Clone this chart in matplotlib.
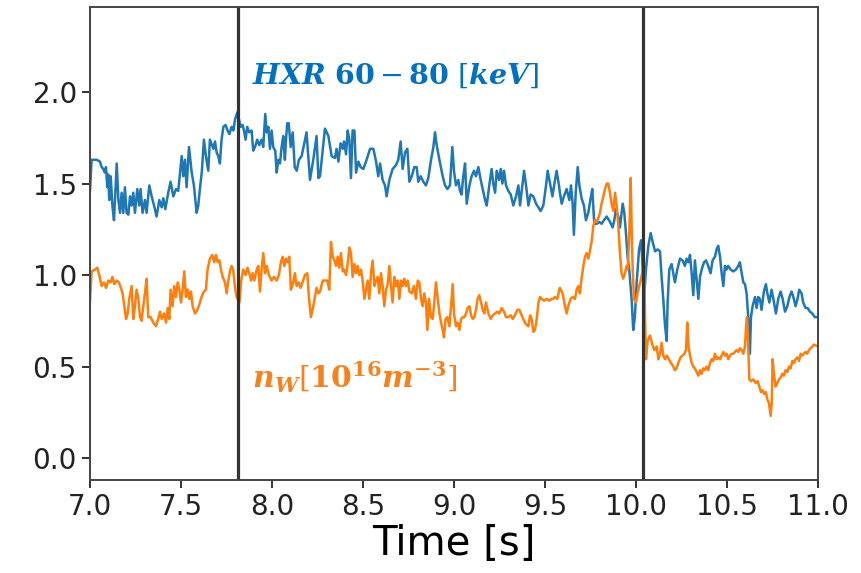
import matplotlib
matplotlib.use("Agg")
import matplotlib.pyplot as plt

# =====================================================
# DATA
# =====================================================

# HXR 60-80 keV signal
t_hxr = [
    7.000, 7.009, 7.037, 7.055, 7.064, 7.073, 7.082, 7.088, 7.095, 7.100,
    7.106, 7.114, 7.123, 7.132, 7.147, 7.156, 7.165, 7.174, 7.183, 7.192,
    7.201, 7.211, 7.220, 7.229, 7.238, 7.247, 7.260, 7.271, 7.278, 7.289,
    7.302, 7.311, 7.326, 7.339, 7.352, 7.366, 7.381, 7.394, 7.403, 7.414,
    7.430, 7.443, 7.458, 7.473, 7.485, 7.495, 7.504, 7.513, 7.522, 7.531,
    7.544, 7.559, 7.571, 7.586, 7.595, 7.604, 7.615, 7.626, 7.637, 7.650,
    7.659, 7.678, 7.687, 7.696, 7.705, 7.714, 7.723, 7.733, 7.745, 7.756,
    7.766, 7.778, 7.788, 7.797, 7.810, 7.821, 7.828, 7.839, 7.846, 7.855,
    7.864, 7.875, 7.888, 7.897, 7.907, 7.919, 7.930, 7.943, 7.952, 7.963,
    7.971, 7.980, 7.989, 7.998, 8.007, 8.018, 8.026, 8.035, 8.044, 8.053,
    8.062, 8.071, 8.077, 8.084, 8.092, 8.103, 8.114, 8.125, 8.136, 8.148,
    8.163, 8.190, 8.209, 8.227, 8.245, 8.255, 8.264, 8.291, 8.310, 8.328,
    8.346, 8.355, 8.365, 8.377, 8.389, 8.396, 8.407, 8.416, 8.425, 8.434,
    8.443, 8.453, 8.462, 8.475, 8.487, 8.502, 8.520, 8.539, 8.557, 8.572,
    8.584, 8.594, 8.608, 8.621, 8.630, 8.645, 8.663, 8.681, 8.694, 8.707,
    8.718, 8.731, 8.744, 8.755, 8.768, 8.782, 8.795, 8.804, 8.817, 8.832,
    8.846, 8.859, 8.874, 8.887, 8.896, 8.905, 8.920, 8.938, 8.951, 8.964,
    8.978, 8.991, 9.000, 9.011, 9.024, 9.033, 9.042, 9.051, 9.061, 9.070,
    9.085, 9.097, 9.110, 9.121, 9.134, 9.147, 9.158, 9.171, 9.180, 9.194,
    9.207, 9.216, 9.226, 9.235, 9.248, 9.257, 9.266, 9.275, 9.286, 9.299,
    9.312, 9.326, 9.341, 9.354, 9.363, 9.376, 9.385, 9.396, 9.409, 9.421,
    9.436, 9.451, 9.464, 9.476, 9.491, 9.506, 9.515, 9.528, 9.541, 9.552,
    9.564, 9.577, 9.582, 9.592, 9.604, 9.619, 9.634, 9.643, 9.652, 9.659,
    9.669, 9.680, 9.689, 9.701, 9.714, 9.725, 9.738, 9.751, 9.760, 9.771,
    9.784, 9.799, 9.811, 9.824, 9.839, 9.852, 9.863, 9.872, 9.881, 9.890,
    9.903, 9.912, 9.927, 9.936, 9.945, 9.954, 9.963, 9.976, 9.985, 9.994,
    10.004, 10.017, 10.028, 10.035, 10.044, 10.055, 10.068, 10.081, 10.092, 10.105,
    10.119, 10.132, 10.141, 10.150, 10.160, 10.169, 10.174, 10.183, 10.196, 10.205,
    10.214, 10.227, 10.242, 10.256, 10.269, 10.278, 10.288, 10.297, 10.306, 10.315,
    10.324, 10.333, 10.343, 10.352, 10.361, 10.374, 10.385, 10.397, 10.410, 10.421,
    10.434, 10.443, 10.452, 10.462, 10.471, 10.480, 10.489, 10.498, 10.507, 10.520,
    10.535, 10.549, 10.562, 10.571, 10.581, 10.590, 10.599, 10.608, 10.617, 10.626,
    10.632, 10.641, 10.654, 10.663, 10.672, 10.681, 10.690, 10.703, 10.714, 10.722,
    10.733, 10.745, 10.755, 10.769, 10.782, 10.795, 10.806, 10.819, 10.832, 10.843,
    10.855, 10.865, 10.877, 10.888, 10.897, 10.910, 10.919, 10.932, 10.943, 10.956,
    10.969, 10.983, 11.000,
]
hxr = [
    1.46, 1.63, 1.63, 1.62, 1.59, 1.58, 1.56, 1.59, 1.48, 1.55,
    1.41, 1.54, 1.38, 1.30, 1.61, 1.41, 1.34, 1.45, 1.34, 1.48,
    1.34, 1.33, 1.43, 1.38, 1.45, 1.34, 1.47, 1.38, 1.47, 1.34,
    1.41, 1.34, 1.49, 1.43, 1.38, 1.32, 1.41, 1.37, 1.42, 1.36,
    1.45, 1.51, 1.43, 1.47, 1.46, 1.56, 1.65, 1.54, 1.63, 1.48,
    1.70, 1.56, 1.49, 1.34, 1.38, 1.47, 1.57, 1.74, 1.65, 1.57,
    1.74, 1.69, 1.73, 1.67, 1.65, 1.61, 1.74, 1.81, 1.82, 1.79,
    1.77, 1.81, 1.79, 1.85, 1.89, 1.84, 1.81, 1.82, 1.79, 1.74,
    1.81, 1.78, 1.79, 1.68, 1.70, 1.74, 1.71, 1.74, 1.70, 1.88,
    1.78, 1.81, 1.69, 1.79, 1.70, 1.68, 1.56, 1.63, 1.61, 1.70,
    1.76, 1.63, 1.74, 1.83, 1.83, 1.70, 1.78, 1.59, 1.57, 1.63,
    1.65, 1.78, 1.52, 1.63, 1.76, 1.53, 1.54, 1.80, 1.76, 1.65,
    1.64, 1.69, 1.62, 1.72, 1.69, 1.73, 1.66, 1.79, 1.74, 1.53,
    1.79, 1.79, 1.56, 1.62, 1.59, 1.58, 1.63, 1.69, 1.69, 1.62,
    1.54, 1.61, 1.52, 1.49, 1.43, 1.52, 1.58, 1.60, 1.63, 1.73,
    1.58, 1.67, 1.69, 1.51, 1.54, 1.59, 1.59, 1.51, 1.54, 1.51,
    1.49, 1.53, 1.63, 1.70, 1.78, 1.71, 1.63, 1.54, 1.49, 1.47,
    1.49, 1.70, 1.57, 1.49, 1.52, 1.46, 1.44, 1.54, 1.61, 1.39,
    1.49, 1.54, 1.57, 1.54, 1.59, 1.52, 1.47, 1.41, 1.38, 1.49,
    1.58, 1.50, 1.45, 1.57, 1.52, 1.58, 1.50, 1.57, 1.49, 1.46,
    1.44, 1.38, 1.43, 1.49, 1.38, 1.49, 1.57, 1.49, 1.38, 1.44,
    1.43, 1.39, 1.37, 1.35, 1.38, 1.49, 1.57, 1.50, 1.43, 1.50,
    1.57, 1.49, 1.45, 1.39, 1.43, 1.47, 1.41, 1.49, 1.39, 1.22,
    1.45, 1.59, 1.49, 1.42, 1.38, 1.30, 1.34, 1.42, 1.47, 1.28,
    1.28, 1.29, 1.28, 1.30, 1.32, 1.30, 1.28, 1.26, 1.30, 1.36,
    1.32, 1.26, 1.39, 1.34, 1.23, 1.10, 1.03, 0.87, 0.70, 0.77,
    0.96, 1.14, 1.19, 1.08, 0.87, 1.03, 1.16, 1.23, 1.18, 1.13,
    1.14, 1.13, 0.99, 0.87, 0.72, 0.64, 0.85, 1.03, 1.06, 1.01,
    0.96, 1.03, 1.09, 1.08, 1.05, 1.09, 1.07, 1.11, 1.01, 0.89,
    1.08, 0.98, 0.87, 0.99, 1.03, 1.07, 1.08, 1.05, 1.01, 1.08,
    1.10, 1.14, 1.16, 1.10, 1.01, 0.94, 1.05, 1.03, 1.05, 1.03,
    1.02, 1.03, 1.05, 1.07, 1.01, 0.96, 0.95, 0.90, 0.77, 0.57,
    0.77, 0.83, 0.88, 0.82, 0.88, 0.87, 0.81, 0.91, 0.95, 0.90,
    0.85, 0.92, 0.87, 0.79, 0.87, 0.91, 0.87, 0.80, 0.83, 0.88,
    0.91, 0.88, 0.83, 0.87, 0.92, 0.90, 0.85, 0.82, 0.82, 0.80,
    0.79, 0.77, 0.77,
]

# tungsten density n_W [1e16 m^-3]
t_nw = [
    7.000, 7.009, 7.027, 7.040, 7.051, 7.064, 7.077, 7.088, 7.101, 7.113,
    7.123, 7.134, 7.146, 7.159, 7.170, 7.179, 7.189, 7.198, 7.207, 7.216,
    7.229, 7.238, 7.247, 7.256, 7.266, 7.275, 7.284, 7.293, 7.302, 7.311,
    7.320, 7.333, 7.348, 7.363, 7.375, 7.385, 7.394, 7.407, 7.418, 7.427,
    7.436, 7.443, 7.454, 7.463, 7.472, 7.482, 7.491, 7.500, 7.509, 7.518,
    7.527, 7.537, 7.546, 7.555, 7.564, 7.577, 7.590, 7.601, 7.613, 7.626,
    7.637, 7.646, 7.659, 7.672, 7.683, 7.692, 7.702, 7.711, 7.720, 7.729,
    7.742, 7.751, 7.760, 7.769, 7.778, 7.787, 7.797, 7.806, 7.821, 7.831,
    7.842, 7.855, 7.866, 7.875, 7.885, 7.894, 7.903, 7.916, 7.925, 7.934,
    7.943, 7.952, 7.962, 7.971, 7.983, 7.998, 8.011, 8.026, 8.038, 8.049,
    8.058, 8.068, 8.077, 8.086, 8.095, 8.104, 8.114, 8.126, 8.135, 8.148,
    8.157, 8.168, 8.181, 8.194, 8.203, 8.214, 8.227, 8.236, 8.245, 8.255,
    8.264, 8.279, 8.291, 8.304, 8.315, 8.324, 8.334, 8.343, 8.352, 8.361,
    8.370, 8.379, 8.389, 8.396, 8.407, 8.416, 8.425, 8.434, 8.443, 8.453,
    8.462, 8.471, 8.480, 8.489, 8.498, 8.508, 8.517, 8.526, 8.535, 8.544,
    8.553, 8.563, 8.572, 8.581, 8.590, 8.599, 8.608, 8.617, 8.627, 8.636,
    8.645, 8.654, 8.663, 8.672, 8.681, 8.691, 8.700, 8.709, 8.718, 8.727,
    8.736, 8.746, 8.755, 8.768, 8.780, 8.791, 8.801, 8.810, 8.819, 8.828,
    8.837, 8.846, 8.854, 8.863, 8.874, 8.883, 8.892, 8.901, 8.910, 8.920,
    8.929, 8.938, 8.945, 8.954, 8.964, 8.975, 8.984, 8.993, 9.000, 9.011,
    9.020, 9.030, 9.039, 9.048, 9.057, 9.066, 9.075, 9.085, 9.094, 9.103,
    9.112, 9.121, 9.130, 9.139, 9.149, 9.158, 9.167, 9.176, 9.189, 9.202,
    9.213, 9.226, 9.238, 9.249, 9.262, 9.275, 9.286, 9.299, 9.312, 9.323,
    9.335, 9.348, 9.359, 9.372, 9.385, 9.396, 9.409, 9.418, 9.427, 9.436,
    9.445, 9.455, 9.464, 9.473, 9.482, 9.495, 9.509, 9.524, 9.537, 9.546,
    9.555, 9.568, 9.579, 9.582, 9.597, 9.610, 9.619, 9.628, 9.641, 9.652,
    9.665, 9.674, 9.683, 9.692, 9.701, 9.711, 9.720, 9.729, 9.738, 9.747,
    9.756, 9.766, 9.775, 9.784, 9.793, 9.802, 9.811, 9.821, 9.830, 9.839,
    9.848, 9.857, 9.866, 9.876, 9.885, 9.894, 9.903, 9.912, 9.921, 9.930,
    9.940, 9.949, 9.954, 9.962, 9.971, 9.976, 9.982, 9.989, 10.000, 10.009,
    10.018, 10.028, 10.037, 10.044, 10.055, 10.064, 10.077, 10.090, 10.101, 10.114,
    10.123, 10.132, 10.141, 10.150, 10.160, 10.169, 10.181, 10.192, 10.205, 10.214,
    10.223, 10.233, 10.245, 10.256, 10.266, 10.275, 10.282, 10.289, 10.297, 10.306,
    10.315, 10.324, 10.333, 10.343, 10.352, 10.361, 10.370, 10.379, 10.388, 10.397,
    10.407, 10.416, 10.425, 10.434, 10.443, 10.452, 10.462, 10.471, 10.480, 10.489,
    10.498, 10.507, 10.517, 10.526, 10.535, 10.544, 10.553, 10.562, 10.571, 10.581,
    10.590, 10.599, 10.605, 10.610, 10.617, 10.623, 10.632, 10.645, 10.658, 10.669,
    10.678, 10.687, 10.696, 10.705, 10.714, 10.722, 10.731, 10.740, 10.746, 10.751,
    10.758, 10.767, 10.777, 10.786, 10.795, 10.804, 10.813, 10.822, 10.832, 10.841,
    10.850, 10.859, 10.868, 10.877, 10.887, 10.896, 10.905, 10.914, 10.923, 10.932,
    10.941, 10.950, 10.960, 10.969, 10.978, 11.000,
]
nw = [
    0.85, 1.02, 1.03, 1.04, 1.00, 0.94, 0.96, 0.93, 0.97, 0.96,
    0.99, 0.95, 0.97, 0.96, 0.93, 0.90, 0.83, 0.76, 0.79, 0.87,
    0.94, 0.76, 0.83, 0.92, 0.87, 0.77, 0.75, 0.83, 0.90, 0.98,
    0.77, 0.77, 0.74, 0.72, 0.76, 0.80, 0.76, 0.79, 0.74, 0.82,
    0.76, 0.92, 0.83, 0.94, 0.88, 0.96, 0.92, 0.85, 0.92, 1.02,
    0.88, 0.92, 0.87, 0.91, 0.83, 0.79, 0.81, 0.84, 0.88, 0.91,
    0.92, 1.03, 1.09, 1.11, 1.07, 1.11, 1.07, 1.08, 1.03, 0.99,
    0.96, 0.90, 0.97, 1.02, 1.05, 1.03, 0.93, 0.88, 0.85, 0.97,
    1.03, 1.00, 1.04, 1.01, 0.97, 1.01, 0.97, 1.03, 1.05, 0.91,
    1.03, 1.12, 1.01, 1.05, 1.00, 0.97, 0.99, 0.97, 1.00, 1.07,
    1.10, 1.05, 1.09, 1.07, 1.10, 0.92, 0.95, 1.01, 0.94, 0.96,
    0.93, 0.96, 1.00, 1.01, 0.88, 0.77, 0.83, 0.88, 0.93, 0.90,
    0.91, 0.97, 0.97, 0.97, 0.92, 1.18, 1.10, 1.08, 1.05, 1.10,
    1.04, 1.12, 1.02, 1.03, 1.00, 1.06, 1.15, 1.12, 0.99, 1.06,
    1.01, 1.05, 1.00, 1.03, 0.97, 0.87, 0.92, 0.97, 0.87, 1.01,
    1.08, 0.94, 0.97, 0.99, 0.90, 1.01, 0.94, 0.83, 0.92, 0.95,
    1.05, 0.94, 0.85, 0.99, 0.94, 0.97, 0.87, 0.97, 0.94, 0.98,
    0.94, 0.97, 0.91, 0.90, 0.94, 0.87, 0.97, 0.96, 0.87, 0.83,
    0.90, 0.85, 0.70, 0.87, 0.77, 0.76, 0.85, 0.96, 0.88, 0.79,
    0.74, 0.70, 0.66, 0.76, 0.77, 0.72, 0.83, 0.95, 0.79, 0.72,
    0.74, 0.70, 0.76, 0.77, 0.77, 0.79, 0.82, 0.83, 0.78, 0.76,
    0.77, 0.81, 0.87, 0.89, 0.85, 0.81, 0.79, 0.85, 0.79, 0.76,
    0.78, 0.79, 0.80, 0.79, 0.82, 0.80, 0.77, 0.77, 0.78, 0.76,
    0.78, 0.81, 0.81, 0.78, 0.75, 0.73, 0.72, 0.78, 0.76, 0.69,
    0.70, 0.76, 0.85, 0.88, 0.87, 0.86, 0.87, 0.86, 0.87, 0.87,
    0.88, 0.87, 0.92, 0.93, 0.90, 0.83, 0.79, 0.83, 0.87, 0.88,
    0.87, 0.92, 0.94, 0.90, 0.98, 1.05, 1.10, 1.12, 1.09, 1.13,
    1.18, 1.27, 1.30, 1.29, 1.31, 1.34, 1.39, 1.43, 1.47, 1.50,
    1.50, 1.45, 1.39, 1.35, 1.45, 1.38, 1.27, 1.12, 1.01, 0.98,
    1.01, 1.05, 1.03, 1.18, 1.53, 1.27, 1.03, 0.87, 0.85, 0.90,
    0.94, 0.98, 1.03, 1.05, 0.54, 0.64, 0.67, 0.62, 0.59, 0.61,
    0.54, 0.57, 0.63, 0.56, 0.54, 0.56, 0.54, 0.52, 0.50, 0.48,
    0.49, 0.52, 0.55, 0.56, 0.57, 0.59, 0.74, 0.61, 0.56, 0.52,
    0.50, 0.49, 0.47, 0.45, 0.48, 0.46, 0.49, 0.48, 0.50, 0.48,
    0.52, 0.54, 0.53, 0.57, 0.54, 0.55, 0.54, 0.56, 0.58, 0.56,
    0.57, 0.54, 0.56, 0.57, 0.57, 0.58, 0.59, 0.58, 0.60, 0.59,
    0.57, 0.61, 0.72, 0.77, 0.61, 0.43, 0.42, 0.43, 0.41, 0.42,
    0.39, 0.36, 0.37, 0.35, 0.36, 0.32, 0.30, 0.23, 0.30, 0.54,
    0.46, 0.39, 0.41, 0.43, 0.44, 0.46, 0.45, 0.48, 0.47, 0.50,
    0.49, 0.53, 0.52, 0.54, 0.55, 0.53, 0.57, 0.56, 0.57, 0.58,
    0.57, 0.59, 0.60, 0.61, 0.62, 0.61,
]

# times of the two vertical markers
event_times = [7.813, 10.037]

x_ticks = [7.0, 7.5, 8.0, 8.5, 9.0, 9.5, 10.0, 10.5, 11.0]
y_ticks = [0.0, 0.5, 1.0, 1.5, 2.0]

# =====================================================
# PLOT
# =====================================================

plt.rcParams['mathtext.fontset'] = 'dejavuserif'

fig = plt.figure(figsize=(8.61, 5.73), dpi=100)
ax = fig.add_axes([0.1045, 0.1623, 0.8455, 0.8255])

ax.plot(t_hxr, hxr, color='#1f77b4', linewidth=1.8)
ax.plot(t_nw, nw, color='#ff7f0e', linewidth=1.8)

for t in event_times:
    ax.axvline(t, color='#333333', linewidth=2.3)

ax.set_xlim(7.0, 11.0)
ax.set_ylim(-0.12, 2.465)
ax.set_xticks(x_ticks)
ax.set_yticks(y_ticks)
ax.tick_params(labelsize=20, length=6, width=1.3, colors='#222222')
for s in ax.spines.values():
    s.set_linewidth(1.4)
    s.set_color('#444444')

ax.set_xlabel("Time [s]", fontsize=29, labelpad=2)

# annotations in bold italic math style
ax.text(7.89, 2.045,
        r'$\mathbfit{HXR}\ \mathbf{60} - \mathbf{80}\ [\mathbfit{keV}]$',
        color='#0070c0', fontsize=20.5, ha='left', va='baseline')
ax.text(7.89, 0.383,
        r'$\mathbfit{n}_{\mathbfit{W}}[\mathbf{10}^{\mathbf{16}}\mathbfit{m}^{-\mathbf{3}}]$',
        color='#f5821f', fontsize=21.5, ha='left', va='baseline')

fig.savefig("out.png", dpi=100)
